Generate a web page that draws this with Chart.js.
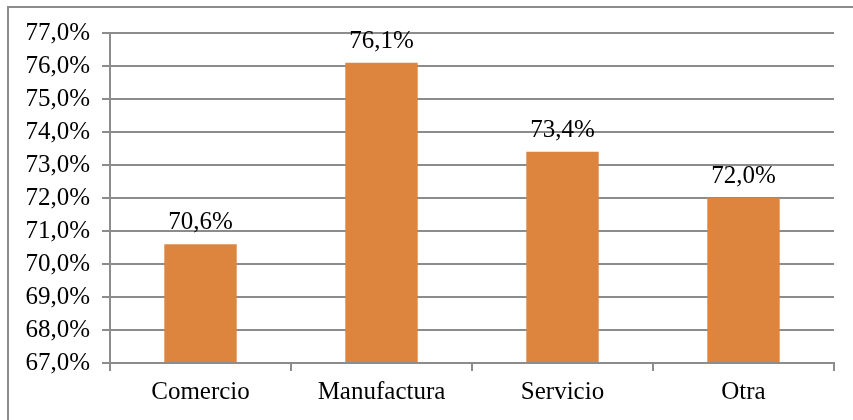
<!DOCTYPE html>
<html><head><meta charset="utf-8">
<script src="https://cdn.jsdelivr.net/npm/chart.js@4/dist/chart.umd.min.js"></script>
<style>
html,body{margin:0;padding:0;background:#fff;}
#wrap{width:853px;height:420px;position:relative;}
</style></head>
<body><div id="wrap"><canvas id="c" width="853" height="420"></canvas></div>
<script>
const categories = ["Comercio", "Manufactura", "Servicio", "Otra"];
const values = [70.6, 76.1, 73.4, 72.0];
const yMin = 67, yMax = 77, yStep = 1;

const fmt = v => v.toFixed(1).replace('.', ',') + '%';
const FONT = "'Liberation Serif', 'Times New Roman', serif";

const framePlugin = {
  id: 'frame',
  afterDraw(chart) {
    const ctx = chart.ctx;
    ctx.save();
    ctx.strokeStyle = '#8c8c8c';
    ctx.lineWidth = 2;
    ctx.beginPath();
    ctx.moveTo(8, 425);
    ctx.lineTo(8, 7);
    ctx.lineTo(860, 7);
    ctx.stroke();
    ctx.restore();
  }
};

const labelPlugin = {
  id: 'vlabels',
  afterDatasetsDraw(chart) {
    const ctx = chart.ctx;
    const meta = chart.getDatasetMeta(0);
    ctx.save();
    ctx.fillStyle = '#000';
    ctx.font = '25px ' + FONT;
    ctx.textAlign = 'center';
    ctx.textBaseline = 'alphabetic';
    meta.data.forEach((bar, i) => {
      ctx.fillText(fmt(values[i]), bar.x, bar.y - 15);
    });
    ctx.restore();
  }
};

new Chart(document.getElementById('c'), {
  type: 'bar',
  data: {
    labels: categories,
    datasets: [{
      data: values,
      backgroundColor: '#DD843F',
      categoryPercentage: 0.8,
      barPercentage: 0.5,
      base: yMin
    }]
  },
  options: {
    responsive: false,
    animation: false,
    devicePixelRatio: 1,
    layout: { padding: { left: 10, top: 33, right: 19, bottom: 7 } },
    plugins: { legend: { display: false }, tooltip: { enabled: false } },
    scales: {
      x: {
        offset: true,
        grid: { display: true, drawOnChartArea: false, offset: true, color: '#8c8c8c', lineWidth: 2, tickLength: 8 },
        border: { color: '#8c8c8c', width: 2 },
        ticks: { color: '#000', font: { family: FONT, size: 25 }, padding: 6 }
      },
      y: {
        min: yMin, max: yMax,
        afterFit(scale) { scale.width = 100; },
        grid: { color: '#8c8c8c', lineWidth: 2, tickLength: 8 },
        border: { color: '#8c8c8c', width: 2 },
        ticks: { stepSize: yStep, autoSkip: false, color: '#000', font: { family: FONT, size: 25 }, padding: 12,
                 callback: v => fmt(v) }
      }
    }
  },
  plugins: [framePlugin, labelPlugin]
});
</script></body></html>
